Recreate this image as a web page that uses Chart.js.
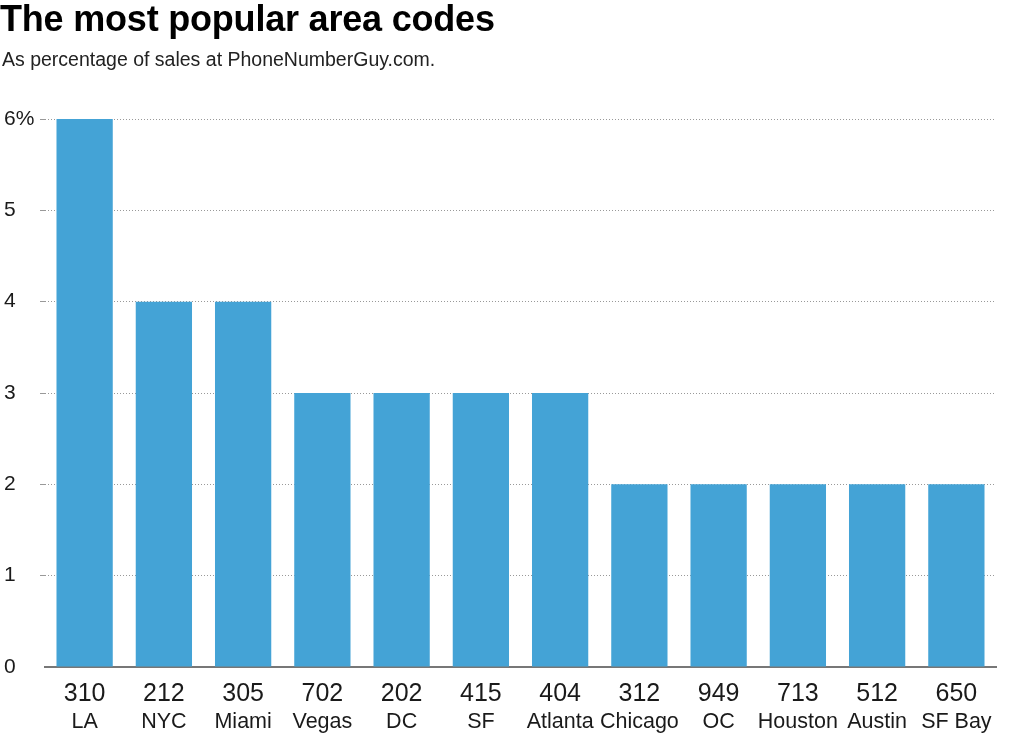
<!DOCTYPE html>
<html>
<head>
<meta charset="utf-8">
<script src="https://cdn.jsdelivr.net/npm/chart.js@4/dist/chart.umd.min.js"></script>
<style>
  html, body { margin: 0; padding: 0; background: #fff; }
  #wrap { position: relative; width: 1024px; height: 737px; }
  #title { position: absolute; left: 0px; top: -2px; font: bold 36px "Liberation Sans", Arial, sans-serif; color: #000; white-space: nowrap; letter-spacing: -0.2px; }
  #sub { position: absolute; left: 2px; top: 48px; font: 19.5px "Liberation Sans", Arial, sans-serif; color: #222; white-space: nowrap; }
  canvas { position: absolute; left: 0; top: 0; }
</style>
</head>
<body>
<div id="wrap">
  <canvas id="c" width="1024" height="737"></canvas>
  <div id="title">The most popular area codes</div>
  <div id="sub">As percentage of sales at PhoneNumberGuy.com.</div>
</div>
<script>
const codes = ["310", "212", "305", "702", "202", "415", "404", "312", "949", "713", "512", "650"];
const cities = ["LA", "NYC", "Miami", "Vegas", "DC", "SF", "Atlanta", "Chicago", "OC", "Houston", "Austin", "SF Bay"];
const shares = [6, 4, 4, 3, 3, 3, 3, 2, 2, 2, 2, 2];
const yTicks = [0, 1, 2, 3, 4, 5, 6];

const FONT = '"Liberation Sans", Arial, sans-serif';

new Chart(document.getElementById('c'), {
  type: 'bar',
  data: {
    labels: codes,
    datasets: [{
      data: shares,
      backgroundColor: '#44a3d6',
      borderWidth: 0,
      barPercentage: 0.71,
      categoryPercentage: 1.0
    }]
  },
  options: {
    responsive: false,
    animation: false,
    devicePixelRatio: 1,
    layout: { padding: { top: 119, left: 4, right: 28, bottom: 0 } },
    plugins: { legend: { display: false }, tooltip: { enabled: false } },
    scales: {
      x: {
        type: 'category',
        position: 'bottom',
        grid: { display: false, drawTicks: false },
        border: { display: true, color: '#777', width: 2 },
        ticks: { color: '#1a1a1a', font: { family: FONT, size: 25 }, padding: 12, maxRotation: 0, autoSkip: false },
        afterFit(s) { s.height = 40; }
      },
      x2: {
        type: 'category',
        position: 'bottom',
        labels: cities,
        grid: { display: false, drawTicks: false },
        border: { display: false },
        ticks: { color: '#1a1a1a', font: { family: FONT, size: 21.5 }, padding: 2, maxRotation: 0, autoSkip: false },
        afterFit(s) { s.height = 30; }
      },
      y: {
        min: 0,
        max: 6,
        afterBuildTicks(s) { s.ticks = yTicks.map(v => ({ value: v })); },
        grid: {
          color: ctx => (ctx.tick && ctx.tick.value === 0) ? 'rgba(0,0,0,0)' : '#999',
          lineWidth: 1,
          drawTicks: true,
          tickLength: 5
        },
        border: { display: false, dash: [1, 2] },
        ticks: {
          color: '#1a1a1a',
          font: { family: FONT, size: 21 },
          crossAlign: 'far',
          padding: 0,
          callback: v => v === 6 ? '6%' : String(v)
        },
        afterFit(s) { s.width = 41; }
      }
    }
  }
});
</script>
</body>
</html>
